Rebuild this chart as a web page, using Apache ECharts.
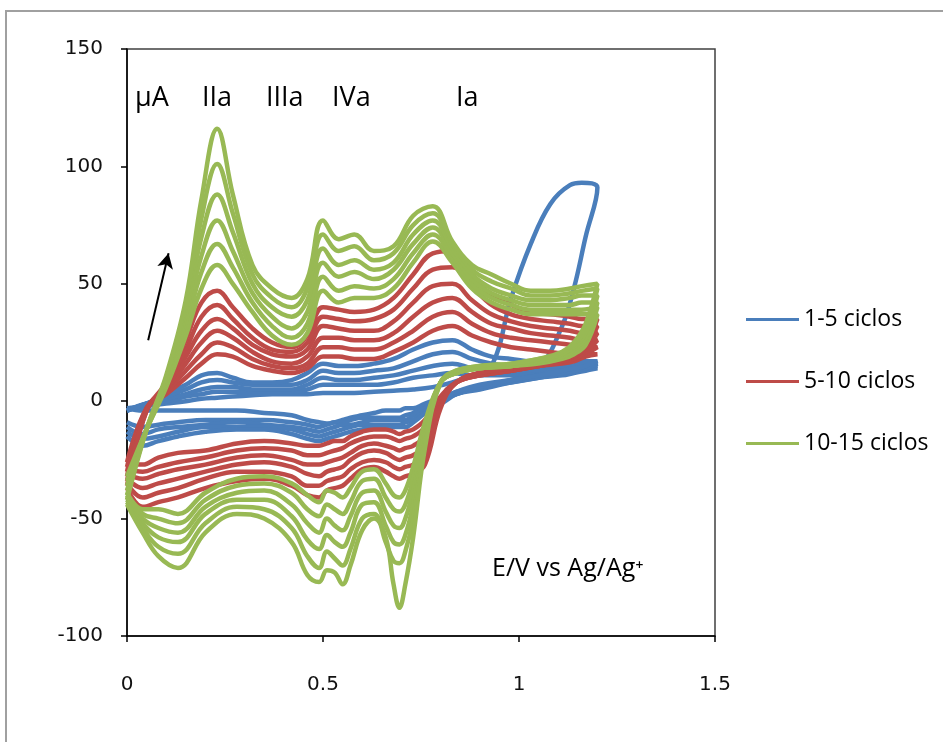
<!DOCTYPE html>
<html><head><meta charset="utf-8">
<script src="https://cdn.jsdelivr.net/npm/echarts/dist/echarts.min.js"></script>
<style>html,body{margin:0;padding:0;background:#fff}#c{width:943px;height:742px}</style>
</head><body><div id="c"></div>
<script>
// Potential grids (V vs Ag/Ag+)
const potentialAnodic = [0, 0.05, 0.1, 0.15, 0.19, 0.23, 0.27, 0.32, 0.37, 0.42, 0.46, 0.5, 0.54, 0.58, 0.63, 0.68, 0.73, 0.78, 0.83, 0.88, 0.93, 0.98, 1.03, 1.08, 1.13, 1.16, 1.2];
const potentialCathodic = [1.17, 1.14, 1.11, 1.05, 0.98, 0.9, 0.84, 0.8, 0.76, 0.73, 0.71, 0.695, 0.68, 0.66, 0.63, 0.6, 0.57, 0.55, 0.53, 0.51, 0.49, 0.46, 0.42, 0.35, 0.28, 0.2, 0.13, 0.08, 0.04, 0];

// Current (µA), cycles 1-5
const blueAnodic = [
  [-3, -2, -1, 0, 1, 1.5, 2, 2.5, 3, 3, 3, 3.5, 3.5, 3.5, 4, 4.5, 5, 6, 8, 11, 15, 44, 67, 84, 92, 93, 91],
  [-4, -1, 0, 2, 3, 4, 4, 4, 4, 4, 5, 7, 7, 7, 7, 8, 10, 11, 12, 11, 11, 11, 12, 13, 13, 14, 14],
  [-4, -1, 1, 3, 5, 6, 6, 5, 5, 5, 7, 10, 9, 9, 10, 11, 13, 15, 16, 14, 13, 13, 13, 14, 14, 15, 15],
  [-4, -1, 2, 5, 8, 9, 8, 7, 7, 7, 9, 13, 12, 12, 13, 14, 17, 20, 21, 18, 16, 15, 15, 15, 15, 16, 16],
  [-4, -1, 3, 7, 11, 12, 10, 8, 8, 9, 12, 16, 15, 15, 16, 18, 22, 25, 26, 22, 19, 18, 17, 17, 17, 17, 17]
];
const blueCathodic = [
  [70, 48, 32, 14, 9, 6, 3, 1, -1, -3, -3, -4, -4, -4, -5, -6, -7, -8, -9, -9.5, -9, -8, -6, -5, -4, -4, -4, -4, -4, -3],
  [13, 12, 11, 10, 8, 5, 3, -1, -2, -5, -6, -7, -7, -7, -7, -7, -8, -9, -9, -10, -11, -10, -9, -8, -8, -8, -9, -10, -11, -9],
  [14, 13, 12, 10, 8, 6, 3, 0, -3, -6, -8, -8, -8, -8, -8, -9, -10, -10, -11, -12, -13, -12, -11, -10, -9, -10, -11, -12, -14, -11],
  [14, 13, 12, 11, 9, 6, 4, 0, -4, -8, -9, -10, -10, -10, -10, -10, -11, -12, -13, -14, -15, -14, -12, -11, -11, -11, -13, -15, -16, -13],
  [15, 14, 13, 11, 9, 7, 4, 1, -5, -9, -11, -11, -11, -11, -11, -12, -13, -14, -15, -16, -17, -16, -14, -12, -12, -13, -15, -17, -19, -15]
];

// Current (µA), cycles 5-10
const redAnodic = [
  [-26, -3, 3, 10, 16, 20, 19, 15, 13, 12, 14, 19, 19, 18, 18, 21, 25, 30, 32, 28, 25, 23, 22, 21, 20, 20, 20],
  [-28, -3, 4, 13, 20, 25, 23, 18, 15, 14, 16, 23, 23, 22, 22, 25, 30, 36, 38, 33, 29, 27, 26, 25, 24, 23, 23],
  [-30, -3, 5, 16, 25, 30, 27, 21, 17, 16, 19, 27, 27, 26, 26, 29, 36, 42, 44, 38, 33, 31, 29, 28, 27, 26, 26],
  [-32, -3, 6, 19, 30, 35, 31, 24, 20, 19, 22, 32, 31, 30, 30, 34, 42, 49, 50, 43, 37, 34, 32, 31, 30, 29, 29],
  [-34, -4, 7, 22, 36, 41, 35, 27, 22, 21, 25, 36, 35, 34, 35, 39, 48, 56, 57, 49, 41, 37, 35, 34, 33, 32, 32],
  [-36, -4, 8, 26, 42, 47, 40, 31, 25, 23, 28, 40, 39, 38, 39, 44, 54, 63, 64, 54, 45, 41, 38, 37, 36, 35, 35]
];
const redCathodic = [
  [19, 17, 16, 15, 13, 11, 8, 2, -8, -12, -13, -14, -13, -12, -12, -13, -15, -17, -17, -18, -19, -19, -18, -17, -18, -21, -22, -24, -27, -27],
  [20, 18, 17, 15, 13, 11, 8, 1, -11, -15, -16, -17, -16, -15, -15, -16, -18, -20, -21, -22, -23, -23, -21, -20, -21, -24, -26, -28, -30, -29],
  [21, 18, 17, 15, 13, 11, 8, 0, -15, -19, -20, -21, -20, -19, -18, -19, -22, -24, -25, -26, -27, -27, -25, -23, -24, -27, -29, -31, -33, -31],
  [22, 19, 17, 15, 14, 12, 8, -1, -19, -23, -24, -25, -24, -22, -21, -22, -25, -28, -29, -30, -32, -31, -28, -26, -27, -30, -33, -35, -37, -33],
  [23, 19, 18, 16, 14, 12, 8, -2, -23, -27, -28, -29, -28, -26, -25, -26, -29, -32, -33, -34, -36, -36, -32, -30, -30, -33, -37, -39, -41, -35],
  [24, 20, 18, 16, 14, 12, 8, -3, -27, -31, -32, -33, -32, -30, -28, -29, -33, -36, -37, -38, -41, -40, -36, -33, -34, -37, -41, -43, -45, -37]
];

// Current (µA), cycles 10-15
const greenAnodic = [
  [-32, -12, 6, 28, 48, 58, 50, 38, 28, 24, 29, 47, 42, 44, 44, 48, 59, 68, 59, 48, 42, 39, 37, 37, 37, 37, 37],
  [-34, -12, 7, 31, 55, 67, 57, 42, 32, 27, 33, 53, 47, 49, 48, 52, 63, 71, 61, 50, 44, 41, 39, 39, 39, 39, 40],
  [-36, -12, 8, 34, 62, 77, 64, 46, 36, 31, 38, 59, 53, 55, 52, 56, 67, 74, 63, 52, 46, 43, 41, 41, 41, 42, 42],
  [-38, -12, 9, 37, 70, 88, 72, 50, 40, 36, 43, 65, 58, 60, 56, 59, 71, 77, 65, 54, 48, 45, 43, 43, 44, 45, 45],
  [-40, -12, 10, 40, 78, 101, 80, 54, 44, 40, 48, 71, 64, 66, 60, 63, 75, 80, 67, 56, 51, 48, 45, 45, 46, 47, 48],
  [-42, -12, 11, 43, 86, 116, 88, 58, 48, 44, 52, 77, 69, 71, 64, 66, 79, 83, 68, 58, 54, 50, 47, 47, 48, 49, 50]
];
const greenCathodic = [
  [24, 20, 18, 16, 15, 14, 12, 8, -9, -28, -38, -41, -40, -35, -29, -30, -37, -41, -39, -38, -43, -40, -35, -32, -33, -39, -48, -46, -46, -39],
  [26, 21, 19, 17, 15, 14, 12, 8, -11, -33, -44, -47, -46, -41, -33, -34, -43, -48, -46, -44, -49, -46, -39, -35, -36, -42, -52, -50, -48, -40],
  [27, 22, 19, 17, 15, 14, 12, 8, -13, -38, -50, -54, -53, -47, -38, -39, -49, -55, -53, -50, -56, -52, -44, -38, -39, -45, -56, -54, -50, -41],
  [29, 23, 20, 17, 15, 14, 12, 8, -15, -44, -57, -61, -60, -53, -43, -44, -56, -62, -60, -57, -63, -59, -49, -42, -42, -48, -60, -58, -52, -42],
  [31, 24, 20, 18, 16, 15, 13, 8, -17, -50, -64, -69, -68, -60, -48, -50, -63, -70, -67, -64, -71, -66, -54, -46, -45, -52, -65, -62, -54, -43],
  [33, 25, 21, 18, 16, 15, 13, 8, -20, -58, -78, -88, -78, -58, -50, -55, -70, -78, -73, -72, -77, -74, -60, -50, -48, -56, -71, -66, -56, -44]
];

const legendNames = ['1-5 ciclos', '5-10 ciclos', '10-15 ciclos'];
const seriesColors = ['#4A7EBB', '#BE4B48', '#98B954'];
const peakLabels = ['μA', 'IIa', 'IIIa', 'IVa', 'Ia'];
const axisTitle = 'E/V vs Ag/Ag⁺';
const arrowFrom = [0.054, 26];
const arrowTo = [0.106, 63];
const xMin = 0, xMax = 1.5, xStep = 0.5;
const yMin = -100, yMax = 150, yStep = 50;

function loop(an, cat) {
  return potentialAnodic.map((e, i) => [e, an[i]])
    .concat(potentialCathodic.map((e, i) => [e, cat[i]]));
}
const groups = [
  { an: blueAnodic, cat: blueCathodic },
  { an: redAnodic, cat: redCathodic },
  { an: greenAnodic, cat: greenCathodic }
];
const series = [];
groups.forEach((g, gi) => {
  g.an.forEach((an, ci) => {
    series.push({
      type: 'line', name: legendNames[gi], data: loop(an, g.cat[ci]),
      showSymbol: false, symbol: 'none', smooth: 0.4,
      lineStyle: { color: seriesColors[gi], width: 4.5 },
      itemStyle: { color: seriesColors[gi] },
      silent: true, animation: false
    });
  });
});
series.push({
  type: 'line', data: [], silent: true, animation: false,
  markLine: {
    silent: true, animation: false, symbol: ['none', 'arrow'], symbolSize: [12, 15],
    label: { show: false },
    lineStyle: { color: '#000', width: 2, type: 'solid' },
    data: [[{ coord: arrowFrom }, { coord: arrowTo }]]
  }
});

const labelFont = '"Open Sans", Lato, sans-serif';
const tickFont = '"DejaVu Sans", sans-serif';
const peakX = [135, 202, 266, 332, 456];
const chart = echarts.init(document.getElementById('c'), null, { renderer: 'canvas' });
chart.setOption({
  animation: false,
  backgroundColor: '#fff',
  grid: { left: 127, top: 49, width: 588, height: 587, show: true, borderColor: '#404040', borderWidth: 1.5, backgroundColor: 'transparent' },
  xAxis: {
    type: 'value', min: xMin, max: xMax, interval: xStep,
    axisLine: { onZero: false, lineStyle: { color: '#000', width: 1.5 } },
    axisTick: { show: true, length: 6, lineStyle: { color: '#000', width: 1.5 } },
    axisLabel: { margin: 39, color: '#111', fontSize: 20, fontFamily: tickFont },
    splitLine: { show: false }
  },
  yAxis: {
    type: 'value', min: yMin, max: yMax, interval: yStep,
    axisLine: { onZero: false, lineStyle: { color: '#000', width: 1.5 } },
    axisTick: { show: true, length: 6, lineStyle: { color: '#000', width: 1.5 } },
    axisLabel: { margin: 24, color: '#111', fontSize: 20, fontFamily: tickFont },
    splitLine: { show: false }
  },
  legend: {
    data: legendNames, orient: 'vertical', left: 746, top: 308, padding: 0,
    icon: 'rect', itemWidth: 53, itemHeight: 3, itemGap: 39,
    textStyle: { fontSize: 23, color: '#000', fontFamily: labelFont }
  },
  graphic: [
    { type: 'rect', shape: { x: 6, y: 11, width: 1000, height: 800 }, style: { fill: 'none', stroke: '#a0a0a0', lineWidth: 2 }, silent: true },
    ...peakLabels.map((t, i) => ({ type: 'text', left: peakX[i], top: 85, silent: true,
      style: { text: t, font: '27px ' + labelFont, fill: '#000' } })),
    { type: 'text', left: 492, top: 556, silent: true, style: { text: axisTitle, font: '25px ' + labelFont, fill: '#000' } }
  ],
  series: series
});
</script></body></html>
